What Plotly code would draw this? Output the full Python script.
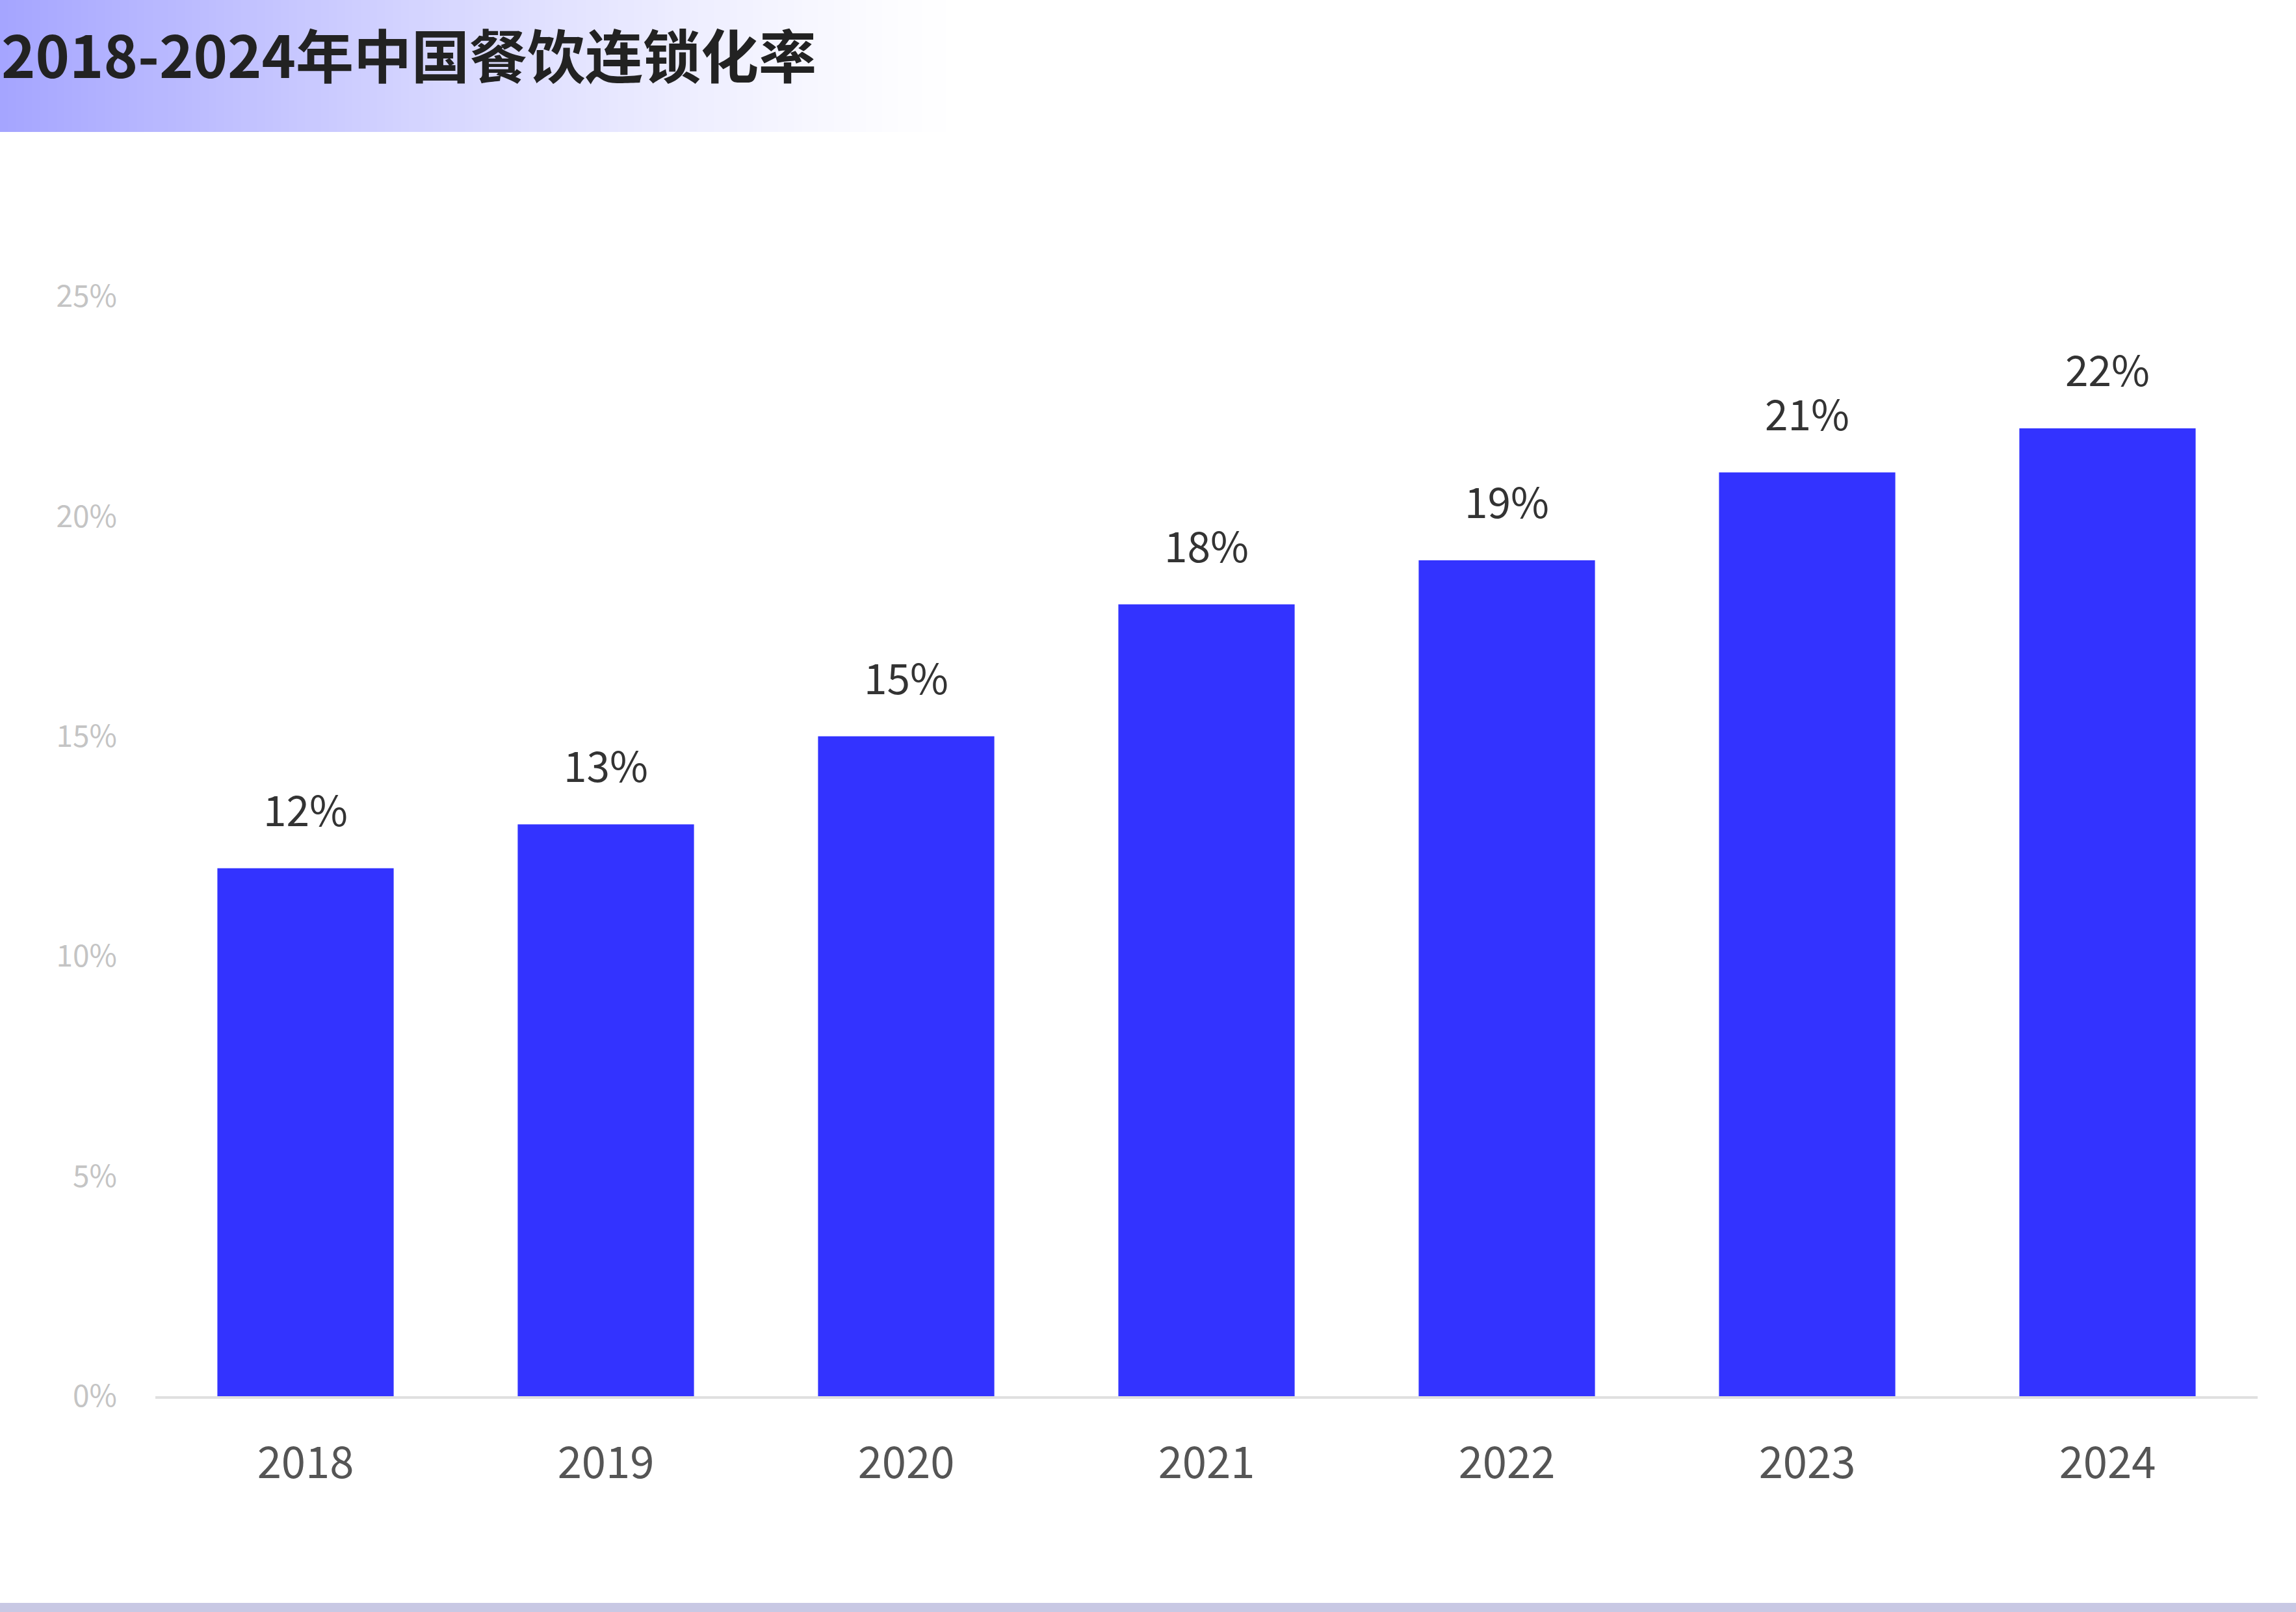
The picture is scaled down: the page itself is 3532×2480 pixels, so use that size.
import plotly.graph_objects as go

years = ["2018", "2019", "2020", "2021", "2022", "2023", "2024"]
rates = [12, 13, 15, 18, 19, 21, 22]
y_ticks = [0, 5, 10, 15, 20, 25]
y_tick_labels = ["0%", "5%", "10%", "15%", "20%", "25%"]
title_text = "2018-2024年中国餐饮连锁化率"

W, H = 3532, 2480
ML, MR, MT, MB = 239, 59, 456, 332
PW = W - ML - MR
PH = H - MT - MB

def px_x(p):
    return (p - ML) / PW

def px_y(p):
    return (H - MB - p) / PH

fig = go.Figure()
fig.add_trace(go.Bar(
    x=list(range(len(years))), y=rates,
    marker=dict(color="#3333ff", line=dict(width=0)),
    hoverinfo="skip",
))

annotations = []
for i, v in enumerate(rates):
    annotations.append(dict(
        x=i, y=v, xref="x", yref="y", text=f"{v}%", showarrow=False,
        yanchor="middle", yshift=93,
        font=dict(family="Noto Sans CJK SC", size=64, color="#333333"),
    ))

annotations.append(dict(
    x=px_x(0), y=px_y(82), xref="paper", yref="paper", text=f"<b>{title_text}</b>",
    showarrow=False, xanchor="left", yanchor="middle",
    font=dict(family="Noto Sans CJK SC", size=89, color="#222222"),
))

shapes = []
# gradient header band
n = 120
band_end = 1480
for i in range(n):
    x0 = band_end * i / n
    x1 = band_end * (i + 1) / n + 1
    t = (i + 0.5) / n
    a = (1 - t) ** 1.3
    r = int(round(255 - (255 - 165) * a))
    g = int(round(255 - (255 - 165) * a))
    b = 255
    shapes.append(dict(
        type="rect", xref="paper", yref="paper", layer="below",
        x0=px_x(x0), x1=px_x(x1), y0=px_y(203), y1=px_y(0),
        fillcolor=f"rgb({r},{g},{b})", line=dict(width=0),
    ))
# bottom strip
shapes.append(dict(
    type="rect", xref="paper", yref="paper", layer="below",
    x0=px_x(0), x1=px_x(W), y0=px_y(H), y1=px_y(2466),
    fillcolor="#c8c8e4", line=dict(width=0),
))

fig.update_layout(
    width=W, height=H,
    margin=dict(l=ML, r=MR, t=MT, b=MB, autoexpand=False),
    paper_bgcolor="white", plot_bgcolor="white",
    showlegend=False,
    bargap=0.413,
    annotations=annotations,
    shapes=shapes,
    font=dict(family="Noto Sans CJK SC"),
)
fig.update_xaxes(
    range=[-0.5, len(years) - 0.5],
    tickmode="array", tickvals=list(range(len(years))), ticktext=years,
    showgrid=False, zeroline=False,
    showline=True, linecolor="#e0e0e0", linewidth=4,
    ticks="", ticklabelstandoff=42,
    tickfont=dict(family="Noto Sans CJK SC", size=67, color="#555555"),
)
fig.update_yaxes(
    range=[0, 25], showgrid=False, zeroline=False, showline=False,
    tickmode="array", tickvals=y_ticks, ticktext=y_tick_labels,
    ticks="", ticklabelstandoff=58,
    tickfont=dict(family="Noto Sans CJK SC", size=46, color="#c4c4c4"),
)

fig.write_html("out.html")
